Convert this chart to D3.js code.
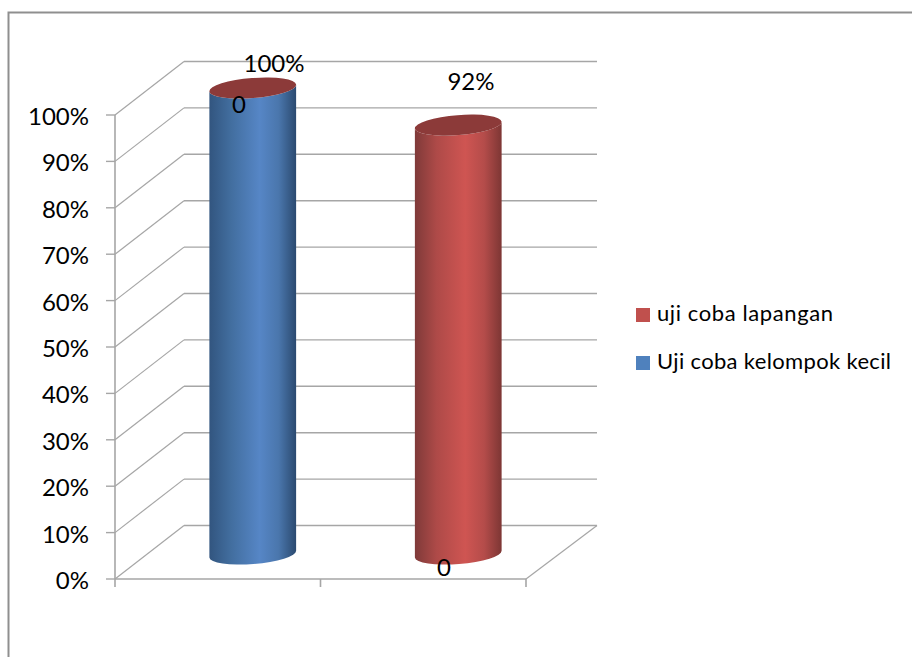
<!DOCTYPE html>
<html><head><meta charset="utf-8">
<script src="https://cdn.jsdelivr.net/npm/d3@7/dist/d3.min.js"></script>
<style>html,body{margin:0;padding:0;background:#fff}svg{display:block}text{font-family:Lato,"Open Sans",sans-serif;fill:#000}</style>
</head><body><svg id="c" width="912" height="657"></svg>
<script>
const categories = ["Uji coba kelompok kecil", "uji coba lapangan"];
const barValues = [100, 92];
const valueLabels = ["100%", "92%"];
const zeroLabels = ["0", "0"];
const ticks = [0,10,20,30,40,50,60,70,80,90,100];
const legendOrder = ["uji coba lapangan", "Uji coba kelompok kecil"];
const seriesColors = ["#4f81bd", "#c0504d"];

const svg = d3.select("#c");
const defs = svg.append("defs");
const W = 912, H = 657;
const y = d3.scaleLinear().domain([0,100]).range([579,115]);
const x = d3.scaleBand().domain(categories).range([115,526]);
const depthX = 69, depthY = 53.5;
const grid = "#a6a6a6";

// frame
svg.append("path").attr("d",`M8.5,${H}V12.5H${W}`).attr("fill","none").attr("stroke","#8f8f8f").attr("stroke-width",2);

// gridlines
const g = svg.append("g").attr("stroke",grid).attr("stroke-width",1.4).attr("fill","none");
ticks.forEach(t=>{
  const v=y(t);
  g.append("line").attr("x1",x.range()[0]).attr("y1",v).attr("x2",x.range()[0]+depthX).attr("y2",v-depthY).attr("stroke-width",1.2);
  g.append("line").attr("x1",x.range()[0]+depthX).attr("y1",v-depthY).attr("x2",597).attr("y2",v-depthY);
  g.append("line").attr("x1",x.range()[0]-9).attr("y1",v).attr("x2",x.range()[0]).attr("y2",v);
});
g.append("line").attr("x1",115).attr("x2",115).attr("y1",y(100)).attr("y2",y(0)).attr("stroke-width",1.6);
g.append("line").attr("x1",115).attr("x2",526).attr("y1",y(0)).attr("y2",y(0)).attr("stroke-width",1.6);
g.append("line").attr("x1",526).attr("y1",y(0)).attr("x2",597).attr("y2",y(0)-depthY).attr("stroke-width",1.2);
[...categories.map(c=>x(c)),526].forEach(v=>{
  g.append("line").attr("x1",v).attr("x2",v).attr("y1",y(0)).attr("y2",y(0)+8).attr("stroke-width",1.6);
});

// y labels
svg.append("g").selectAll("text").data(ticks).join("text")
  .attr("x",89).attr("y",d=>y(d)+10).attr("text-anchor","end")
  .attr("font-size",24).text(d=>d+"%");

// gradients
const stops = [
  [["0","#32557f"],["0.25","#426e9f"],["0.58","#5686c6"],["0.8","#4a76ac"],["1","#2b4a70"]],
  [["0","#7f3a39"],["0.25","#ae4a48"],["0.58","#cf5552"],["0.8","#b44c4a"],["1","#7d3634"]]
];
stops.forEach((s,i)=>{
  const lg=defs.append("linearGradient").attr("id","g"+i).attr("x1",0).attr("x2",1).attr("y1",0).attr("y2",0);
  s.forEach(p=>lg.append("stop").attr("offset",p[0]).attr("stop-color",p[1]));
});

// cylinders
const rx = 43.5, ry = 10, rot = -4.5, dyBase = 25;
const dx = rx*Math.cos(rot*Math.PI/180), dy = rx*Math.sin(rot*Math.PI/180);
const cyl = svg.append("g");
categories.forEach((c,i)=>{
  const cx = x(c)+x.bandwidth()/2+35;
  const top = y(barValues[i])-27, bot = y(0)-dyBase;
  cyl.append("path")
    .attr("d",`M${cx-dx},${top-dy}L${cx-dx},${bot-dy}A${rx},${ry} ${rot} 0 0 ${cx+dx},${bot+dy}L${cx+dx},${top+dy}A${rx},${ry} ${rot} 0 1 ${cx-dx},${top-dy}Z`)
    .attr("fill",`url(#g${i})`);
  cyl.append("ellipse").attr("cx",cx).attr("cy",top).attr("rx",rx).attr("ry",ry)
    .attr("transform",`rotate(${rot} ${cx} ${top})`).attr("fill","#8c3a39");
});

// data labels
const labelAt = [[274,71.5],[471,89.5]];
valueLabels.forEach((t,i)=>svg.append("text").attr("x",labelAt[i][0]).attr("y",labelAt[i][1]).attr("text-anchor","middle").attr("font-size",24).text(t));
const zeroAt = [[239,113],[444,576]];
zeroLabels.forEach((t,i)=>svg.append("text").attr("x",zeroAt[i][0]).attr("y",zeroAt[i][1]).attr("text-anchor","middle").attr("font-size",24).text(t));

// legend
const legY = d3.scalePoint().domain(legendOrder).range([315,363]);
const lg = svg.append("g");
legendOrder.forEach(n=>{
  const idx = categories.indexOf(n);
  lg.append("rect").attr("x",636).attr("y",legY(n)-7).attr("width",14).attr("height",14).attr("fill",seriesColors[idx]);
  lg.append("text").attr("x",657).attr("y",legY(n)+6).attr("font-size",22)
    .attr("textLength", n.length>20?234:176).attr("lengthAdjust","spacing").text(n);
});
</script></body></html>
